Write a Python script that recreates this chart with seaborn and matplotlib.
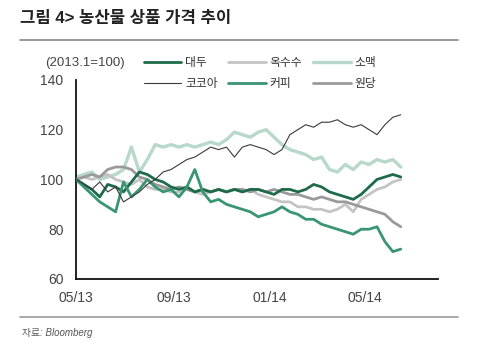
import pandas as pd
import matplotlib
matplotlib.use("Agg")
import matplotlib.pyplot as plt
import matplotlib.dates as mdates
from matplotlib.lines import Line2D
import seaborn as sns

# 10-day sampling (2013.1 = 100)
dates = pd.date_range("2013-05-01", periods=42, freq="10D")

soybean = [100, 98, 96, 93, 98, 97, 95, 99, 103, 102, 100, 99, 97, 96, 97, 95,
           96, 95, 96, 95, 96, 95, 96, 96, 95, 94, 96, 96, 95, 96, 98, 97,
           95, 94, 93, 92, 94, 97, 100, 101, 102, 101]
corn = [100, 101, 100, 101, 102, 100, 99, 98, 100, 97, 96, 96, 95, 95, 96, 95,
        94, 95, 96, 95, 96, 95, 96, 94, 93, 92, 91, 91, 89, 89, 88, 88,
        87, 88, 90, 87, 92, 94, 96, 97, 99, 100]
wheat = [101, 102, 103, 100, 101, 102, 104, 113, 103, 108, 114, 113, 114, 113, 114, 113,
         114, 115, 114, 116, 119, 118, 117, 119, 120, 117, 114, 112, 111, 110, 108, 109,
         104, 103, 106, 104, 107, 106, 108, 107, 108, 105]
cocoa = [100, 98, 96, 99, 95, 97, 91, 93, 95, 98, 100, 103, 104, 106, 108, 109,
         111, 113, 112, 113, 109, 113, 114, 113, 112, 110, 112, 118, 120, 122, 121, 123,
         123, 124, 122, 121, 122, 120, 118, 122, 125, 126]
coffee = [100, 97, 94, 91, 89, 87, 99, 93, 96, 100, 97, 95, 96, 93, 97, 104,
          95, 91, 92, 90, 89, 88, 87, 85, 86, 87, 89, 87, 86, 84, 84, 82,
          81, 80, 79, 78, 80, 80, 81, 75, 71, 72]
sugar = [100, 101, 102, 101, 104, 105, 105, 104, 101, 100, 98, 97, 96, 97, 96, 95,
         96, 95, 96, 95, 96, 96, 95, 96, 95, 96, 95, 94, 94, 93, 92, 93,
         92, 91, 91, 90, 89, 88, 87, 86, 83, 81]

names = ["대두", "옥수수", "소맥", "코코아", "커피", "원당"]
series = [soybean, corn, wheat, cocoa, coffee, sugar]
colors = ["#1d6b4b", "#c4c4c4", "#b7d8cb", "#3a3a3a", "#3a9574", "#9a9a9a"]
widths = [2.0, 2.0, 2.4, 0.8, 2.0, 2.0]
zorders = [4, 3, 2, 6, 5, 3]

df = pd.DataFrame({"date": dates})
for n, s in zip(names, series):
    df[n] = s
long = df.melt(id_vars="date", var_name="item", value_name="value")

sns.set_style("white")
plt.rcParams["font.family"] = ["Liberation Sans", "Noto Sans CJK KR", "DejaVu Sans"]

fig = plt.figure(figsize=(5, 3.6), dpi=100)
ax = fig.add_axes([0.152, 0.225, 0.724, 0.553])

for n, c, w, z in zip(names, colors, widths, zorders):
    sub = long[long["item"] == n]
    sns.lineplot(data=sub, x="date", y="value", color=c, lw=w, ax=ax,
                 legend=False, zorder=z)

ax.set_xlim(pd.Timestamp("2013-05-01"), pd.Timestamp("2014-08-01"))
ax.set_ylim(60, 140)
ax.set_yticks([60, 80, 100, 120, 140])
ax.set_xticks(pd.to_datetime(["2013-05-01", "2013-09-01", "2014-01-01", "2014-05-01"]))
ax.xaxis.set_major_formatter(mdates.DateFormatter("%m/%y"))
ax.set_xlabel("")
ax.set_ylabel("")
sns.despine(ax=ax)
for sp in ["left", "bottom"]:
    ax.spines[sp].set_color("#111111")
    ax.spines[sp].set_linewidth(1.3)
ax.tick_params(axis="both", direction="out", length=4, width=1.2,
               color="#111111", labelsize=10, labelcolor="#444444", pad=5)

# legend: two rows of three
order = [0, 3, 1, 4, 2, 5]
handles = [Line2D([], [], color=colors[i], lw=widths[i]) for i in order]
labels = [names[i] for i in order]
fig.legend(handles, labels, ncol=3, frameon=False, loc="upper left",
           bbox_to_anchor=(0.266, 0.87), fontsize=8.5, handlelength=3.2,
           columnspacing=0.9, handletextpad=0.3, labelspacing=0.75,
           labelcolor="#333333")

fig.text(0.09, 0.826, "(2013.1=100)", fontsize=9.5, color="#444444", va="center")

# title and frame rules
fig.text(0.04, 0.948, "그림 4> 농산물 상품 가격 추이", fontsize=12, fontweight="bold",
         color="#222222", va="center")
fig.add_artist(Line2D([0.04, 0.916], [0.888, 0.888], color="#888888", lw=1.2))
fig.add_artist(Line2D([0.04, 0.916], [0.12, 0.12], color="#999999", lw=1.2))
fig.text(0.044, 0.075, "자료: Bloomberg", fontsize=7, style="italic",
         color="#555555", va="center")

fig.savefig("out.png", dpi=100, facecolor="white")
